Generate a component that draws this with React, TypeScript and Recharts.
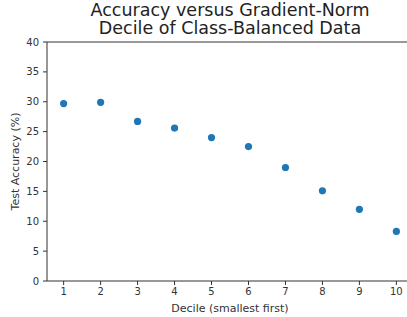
import { ScatterChart, Scatter, XAxis, YAxis, ReferenceLine } from "recharts";

const deciles = [1, 2, 3, 4, 5, 6, 7, 8, 9, 10];
const accuracy = [29.7, 29.9, 26.7, 25.6, 24.0, 22.5, 19.0, 15.1, 12.0, 8.3];
const yTicks = [0, 5, 10, 15, 20, 25, 30, 35, 40];

const points = deciles.map((d, i) => ({ decile: d, acc: accuracy[i] }));

const FONT = "'DejaVu Sans', sans-serif";
const INK = "#333333";
const DOT = "#1f77b4";

const tick = { fontSize: 10, fill: INK, fontFamily: FONT };

function Dot(props: any) {
  return <circle cx={props.cx} cy={props.cy} r={3.6} fill={DOT} />;
}

export default function App() {
  return (
    <div style={{ position: "absolute", left: 0, top: 0, width: 407, height: 317, overflow: "hidden", background: "#fff" }}>
      <div
        style={{
          position: "absolute",
          left: 0,
          top: 0.5,
          width: 460,
          textAlign: "center",
          fontFamily: FONT,
          fontSize: 17.5,
          lineHeight: "18.5px",
          color: "#222",
        }}
      >
        Accuracy versus Gradient-Norm
        <br />
        Decile of Class-Balanced Data
      </div>
      <ScatterChart width={413} height={317} margin={{ top: 42, right: 0, bottom: 0, left: 0 }}>
        <XAxis
          type="number"
          dataKey="decile"
          domain={[0.55, 10.45]}
          ticks={deciles}
          allowDataOverflow
          height={36}
          tick={tick}
          tickSize={4}
          tickMargin={3}
          stroke={INK}
          label={{ value: "Decile (smallest first)", position: "insideBottom", offset: 5, fontSize: 11, fill: INK, fontFamily: FONT }}
        />
        <YAxis
          type="number"
          dataKey="acc"
          domain={[0, 40]}
          ticks={yTicks}
          width={47}
          tick={tick}
          tickSize={4}
          tickMargin={4}
          stroke={INK}
          label={{
            value: "Test Accuracy (%)",
            angle: -90,
            position: "insideLeft",
            offset: 15,
            fontSize: 11,
            fill: INK,
            fontFamily: FONT,
            style: { textAnchor: "middle" },
          }}
        />
        <ReferenceLine y={40} stroke={INK} />
        <Scatter data={points} fill={DOT} shape={Dot} isAnimationActive={false} />
      </ScatterChart>
    </div>
  );
}
